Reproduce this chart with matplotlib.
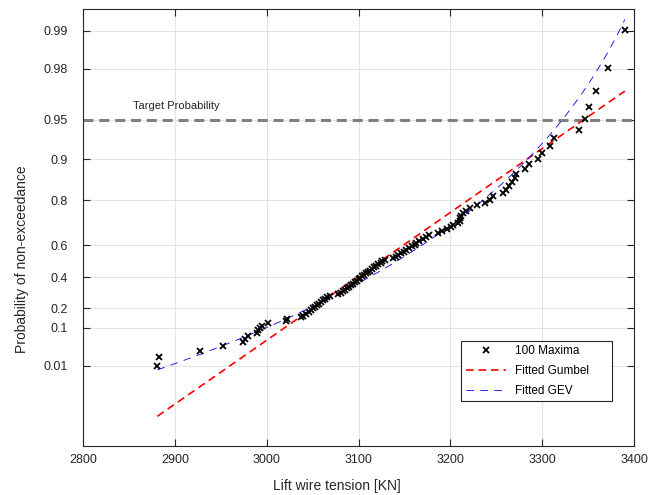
import matplotlib
matplotlib.use("Agg")
import matplotlib.pyplot as plt
import numpy as np

plt.rcParams['font.family'] = ['Liberation Sans', 'DejaVu Sans']
plt.rcParams['lines.scale_dashes'] = False

# 100 annual maxima, sorted (lift wire tension, kN)
maxima = [
    2881, 2883, 2927, 2952, 2974, 2976, 2980, 2989, 2991, 2993,
    2995, 3001, 3021, 3022, 3037, 3040, 3043, 3046, 3048, 3050,
    3053, 3055, 3057, 3059, 3061, 3063, 3066, 3069, 3078, 3081,
    3083, 3085, 3087, 3090, 3092, 3094, 3096, 3098, 3100, 3102,
    3104, 3106, 3108, 3110, 3113, 3115, 3117, 3119, 3121, 3124,
    3126, 3129, 3138, 3141, 3143, 3146, 3149, 3152, 3155, 3158,
    3161, 3163, 3166, 3170, 3174, 3177, 3187, 3191, 3196, 3201,
    3203, 3208, 3210, 3211, 3212, 3214, 3217, 3221, 3229, 3238,
    3243, 3246, 3257, 3261, 3264, 3267, 3270, 3271, 3281, 3286,
    3295, 3300, 3309, 3313, 3340, 3347, 3351, 3359, 3372, 3390,
]

# fitted parameters
gumbel_mu, gumbel_beta = 3091.0, 85.5
gev_mu, gev_sigma, gev_xi = 3102.0, 109.0, -0.28

target_p = 0.95
prob_ticks = [0.01, 0.1, 0.2, 0.4, 0.6, 0.8, 0.9, 0.95, 0.98, 0.99]
x_ticks = [2800, 2900, 3000, 3100, 3200, 3300, 3400]


def reduced(p):
    p = np.asarray(p, dtype=float)
    return -np.log(-np.log(p))


x = np.array(maxima, dtype=float)
n = len(x)
pp = np.arange(1, n + 1) / (n + 1.0)

xf = np.linspace(x.min(), x.max(), 300)
y_gumbel = (xf - gumbel_mu) / gumbel_beta
y_gev = np.log(1 + gev_xi * (xf - gev_mu) / gev_sigma) / gev_xi

fig = plt.figure(figsize=(6.56, 4.95), dpi=100)
ax = fig.add_axes([0.1265, 0.0990, 0.84, 0.8828])

ax.axhline(reduced(target_p), color='#808080', lw=2.2, dashes=(7.2, 4.2), zorder=2)
ax.text(2855, 3.23, 'Target Probability', fontsize=8, color='#262626', va='center')

ax.plot(x, reduced(pp), 'x', color='black', ms=5, mew=1.3, label='100 Maxima', zorder=4)
ax.plot(xf, y_gumbel, color='red', lw=1.2, dashes=(5.5, 3.5), label='Fitted Gumbel', zorder=3)
ax.plot(xf, y_gev, color='blue', lw=0.6, dashes=(5.5, 4.5), label='Fitted GEV', zorder=3)

ax.set_xlim(2800, 3400)
ax.set_ylim(-3, 5)
ax.set_xticks(x_ticks)
ax.set_yticks(reduced(prob_ticks))
ax.set_yticklabels([f'{p:g}' for p in prob_ticks])

ax.grid(True, color='#e3e3e3', lw=0.8)
ax.set_axisbelow(True)
ax.tick_params(direction='in', length=5, width=0.8, top=True, right=True,
               labelsize=9, colors='#262626')
ax.tick_params(axis='y', pad=11)
ax.tick_params(axis='x', pad=6)
for s in ax.spines.values():
    s.set_color('#262626')
    s.set_linewidth(0.8)

ax.set_xlabel('Lift wire tension [KN]', fontsize=10, color='#262626')
ax.set_ylabel('Probability of non-exceedance', fontsize=10, color='#262626')
ax.xaxis.set_label_coords(0.461, -0.075)
ax.yaxis.set_label_coords(-0.098, 0.427)

leg = ax.legend(loc='upper left', bbox_to_anchor=(0.686, 0.0, 0.2735, 0.241),
                mode='expand', borderaxespad=0, fontsize=8.5, handlelength=3.4,
                labelspacing=0.65, fancybox=False, framealpha=1, edgecolor='#262626')
leg.get_frame().set_linewidth(0.8)

fig.savefig('out.png', dpi=100)
